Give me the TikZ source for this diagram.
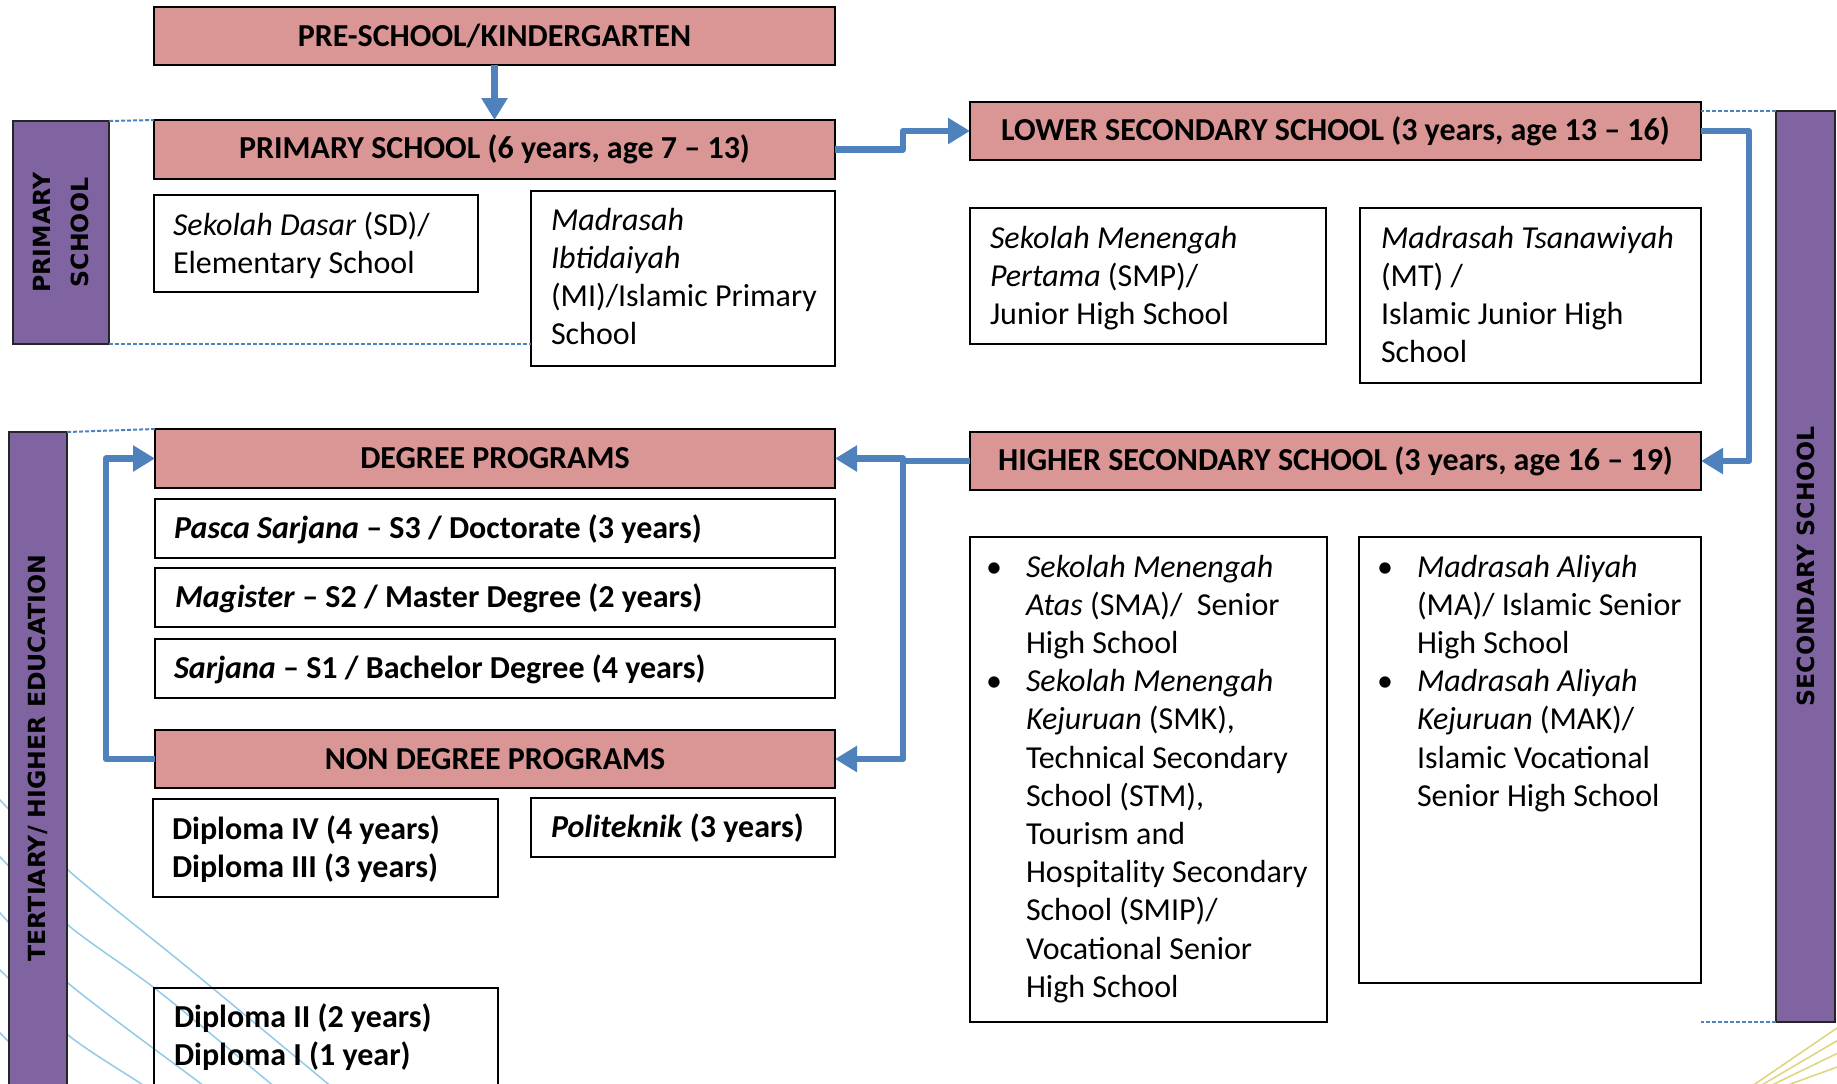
\documentclass[tikz,border=0pt]{standalone}
\usepackage{fontspec}
\setmainfont{Carlito}
\newfontfamily\sidefont{DejaVu Sans}
\usetikzlibrary{arrows.meta}
\definecolor{pinkhdr}{HTML}{D99694}
\definecolor{purp}{HTML}{8064A2}
\definecolor{arrblue}{HTML}{4F81BD}
\definecolor{bgblue}{RGB}{110,185,225}
\definecolor{bgyellow}{RGB}{215,200,90}
\newcommand\bul{\leavevmode\llap{\textbullet\hspace{12pt}}}
\newcommand\bodyfont{\fontsize{16}{19.1}\selectfont}
\tikzset{
  hdr/.style={draw=black, line width=1pt, fill=pinkhdr, inner sep=0pt, outer sep=0pt, font=\bodyfont\bfseries},
  wbox/.style={draw=black, line width=1pt, inner sep=0pt, outer sep=0pt},
  side/.style={draw=black!85, line width=1pt, fill=purp, inner sep=0pt, outer sep=0pt},
  sidetxt/.style={rotate=90, inner sep=0pt, align=center, font=\sidefont\bfseries\fontsize{11.8}{18.7}\selectfont},
  txt/.style={anchor=base west, inner sep=0pt, outer sep=0pt, font=\bodyfont},
  arr/.style={draw=arrblue, line width=3.2pt, line join=round, -{Triangle[length=11pt,width=12.5pt]}},
  dotl/.style={draw=arrblue, line width=1pt, dash pattern=on 2pt off 1pt},
  bgl/.style={draw=bgblue, line width=0.75pt, opacity=0.75},
  bgy/.style={draw=bgyellow, line width=0.75pt, opacity=0.8},
}
\begin{document}
\begin{tikzpicture}[x=0.5pt,y=-0.5pt]
\useasboundingbox (0,0) rectangle (1837,1083);
\clip (0,0) rectangle (1837,1083);
\fill[white] (0,0) rectangle (1837,1083);

% background decoration
\draw[bgl] plot[smooth] coordinates {(-10,790) (0,800) (68,870) (187,967) (327,1083) (340,1094)};
\draw[bgl] plot[smooth] coordinates {(-10,847) (0,857) (68,925) (157,990) (270,1083) (282,1093)};
\draw[bgl] plot[smooth] coordinates {(-10,903) (0,913) (68,983) (200,1083) (212,1093)};
\draw[bgl] plot[smooth] coordinates {(-10,960) (0,970) (68,1035) (140,1083) (152,1092)};
\draw[bgl] plot[smooth] coordinates {(-10,1023) (0,1033) (50,1083) (60,1093)};
\draw[bgy] (1840,1026) -- (1752,1086);
\draw[bgy] (1840,1039) -- (1760,1086);
\draw[bgy] (1840,1052) -- (1770,1086);
\draw[bgy] (1840,1066) -- (1785,1086);

% side bars
\node[side, minimum width=48.2pt, minimum height=111.5pt] (sbP) at (61,232.5) {};
\node[side, minimum width=29.2pt, minimum height=344pt] (sbT) at (38,776) {};
\node[side, minimum width=29.5pt, minimum height=455.5pt] (sbS) at (1805.5,566.5) {};
\node[sidetxt] (tP) at (61,232.5) {PRIMARY\\SCHOOL};
\node[sidetxt] (tT) at (38,758) {TERTIARY/ HIGHER EDUCATION};
\node[sidetxt] (tS) at (1805.5,566.5) {SECONDARY SCHOOL};

% header boxes
\node[hdr, minimum width=340.5pt, minimum height=29pt] (pre) at (494.5,36) {PRE-SCHOOL/KINDERGARTEN};
\node[hdr, minimum width=340.5pt, minimum height=29.5pt] (prim) at (494.5,149.5) {PRIMARY SCHOOL (6 years, age 7 -- 13)};
\node[hdr, minimum width=365.5pt, minimum height=29pt] (lower) at (1335.5,131) {LOWER SECONDARY SCHOOL (3 years, age 13 -- 16)};
\node[hdr, minimum width=365.5pt, minimum height=29pt] (higher) at (1335.5,461) {HIGHER SECONDARY SCHOOL (3 years, age 16 -- 19)};
\node[hdr, minimum width=340pt, minimum height=29.5pt] (deg) at (495,458.5) {DEGREE PROGRAMS};
\node[hdr, minimum width=340pt, minimum height=29pt] (nondeg) at (495,759) {NON DEGREE PROGRAMS};

% white boxes
\node[wbox, minimum width=162pt, minimum height=48.5pt] (sd) at (316,243.5) {};
\node[wbox, minimum width=152pt, minimum height=87.5pt] (mi) at (683,278.5) {};
\node[wbox, minimum width=178pt, minimum height=68pt] (smp) at (1148,276) {};
\node[wbox, minimum width=170.5pt, minimum height=87.5pt] (mt) at (1530.5,295.5) {};
\node[wbox, minimum width=178.5pt, minimum height=242.5pt] (sma) at (1148.5,779.5) {};
\node[wbox, minimum width=171pt, minimum height=223pt] (ma) at (1530,760) {};
\node[wbox, minimum width=340pt, minimum height=29.5pt] (pasca) at (495,528.5) {};
\node[wbox, minimum width=340pt, minimum height=29.5pt] (mag) at (495,597.5) {};
\node[wbox, minimum width=340pt, minimum height=29.5pt] (sarj) at (495,668.5) {};
\node[wbox, minimum width=172.5pt, minimum height=49pt] (dip4) at (325.5,848) {};
\node[wbox, minimum width=152pt, minimum height=29.5pt] (poli) at (683,827.5) {};
\node[wbox, minimum width=172pt, minimum height=61pt] (dip2) at (326,1049) {};

% texts
\node[txt] (tsd) at (173,235) {\parbox[t]{150pt}{\textit{Sekolah Dasar} (SD)/\\Elementary School}};
\node[txt] (tmi) at (551,230) {\parbox[t]{140pt}{\textit{Madrasah}\\\textit{Ibtidaiyah}\\(MI)/Islamic Primary\\School}};
\node[txt] (tsmp) at (990,248) {\parbox[t]{165pt}{\textit{Sekolah Menengah}\\\textit{Pertama} (SMP)/\\Junior High School}};
\node[txt] (tmt) at (1381,248) {\parbox[t]{160pt}{\textit{Madrasah Tsanawiyah}\\(MT) /\\Islamic Junior High\\School}};
\node[txt] (tsma) at (1026,577) {\parbox[t]{150pt}{\bul\textit{Sekolah Menengah}\\\textit{Atas} (SMA)/\ \ Senior\\High School\\\bul\textit{Sekolah Menengah}\\\textit{Kejuruan} (SMK),\\Technical Secondary\\School (STM),\\Tourism and\\Hospitality Secondary\\School (SMIP)/\\Vocational Senior\\High School}};
\node[txt] (tma) at (1417,577) {\parbox[t]{145pt}{\bul\textit{Madrasah Aliyah}\\(MA)/ Islamic Senior\\High School\\\bul\textit{Madrasah Aliyah}\\\textit{Kejuruan} (MAK)/\\Islamic Vocational\\Senior High School}};
\node[txt, font=\bodyfont\bfseries] (tpasca) at (174,538) {\textit{Pasca Sarjana} -- S3 / Doctorate (3 years)};
\node[txt, font=\bodyfont\bfseries] (tmag) at (175,607) {\textit{Magister} -- S2 / Master Degree (2 years)};
\node[txt, font=\bodyfont\bfseries] (tsarj) at (174,678) {\textit{Sarjana} -- S1 / Bachelor Degree (4 years)};
\node[txt, font=\bodyfont\bfseries] (tdip4) at (172,839) {\parbox[t]{160pt}{Diploma IV (4 years)\\Diploma III (3 years)}};
\node[txt, font=\bodyfont\bfseries] (tpoli) at (551,837) {\textit{Politeknik} (3 years)};
\node[txt, font=\bodyfont\bfseries] (tdip2) at (174,1027) {\parbox[t]{160pt}{Diploma II (2 years)\\Diploma I (1 year)}};

% dotted guide lines
\draw[dotl] (sbP.north east) -- (prim.north west);
\draw[dotl] (sbP.south east) -- (sbP.south east -| mi.west);
\draw[dotl] (sbT.north east) -- (deg.north west);
\draw[dotl] (sbS.north west) -- (sbS.north west -| lower.east);
\draw[dotl] (sbS.south west) -- (sbS.south west -| ma.east);

% arrows
\coordinate (j1) at (903,149.5);
\coordinate (j2) at (1749,131);
\coordinate (j3) at (903,461);
\coordinate (j4) at (106,759);
\draw[arr] (pre.south) -- (prim.north);
\draw[arr] (prim.east) -- (j1) |- (lower.west);
\draw[arr] (lower.east) -- (j2) |- (higher.east);
\draw[arr] (higher.west) -- (j3) |- (deg.east);
\draw[arr] (j3) |- (nondeg.east);
\draw[arr] (nondeg.west) -- (j4) |- (deg.west);
\end{tikzpicture}
\end{document}
